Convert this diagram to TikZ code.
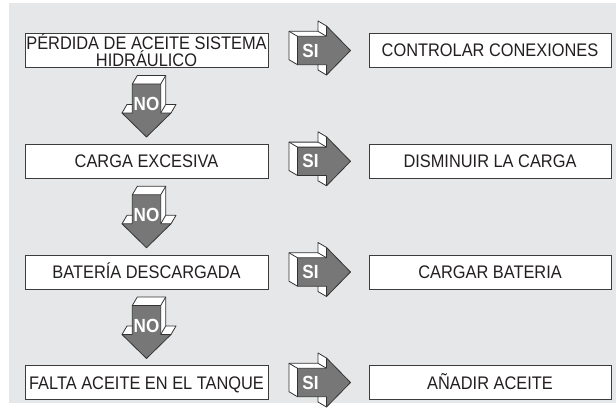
\documentclass[tikz,border=0pt]{standalone}
\usepackage{fontspec}
\setmainfont{Liberation Sans}[FakeStretch=0.9]
\usepackage{xcolor}
\usepackage{tikz}
\usetikzlibrary{positioning,calc}
\definecolor{bggray}{HTML}{E6E7E8}
\definecolor{boxline}{HTML}{3C3C3C}
\definecolor{arrgray}{HTML}{777777}
\definecolor{arrline}{HTML}{333333}
\definecolor{txtcol}{HTML}{231F20}
\newcommand\boxfont{\fontsize{18.2}{15.5}\selectfont}
\newcommand\lblfont{\fontsize{19}{19}\selectfont\bfseries}
\tikzset{
  boxbase/.style={draw=boxline, fill=white, line width=1pt, minimum width=243pt,
    minimum height=34pt, inner sep=0pt, text=txtcol, font=\boxfont},
  condbox/.style={boxbase, text height=13pt, text depth=0pt},
  actbox/.style={condbox, minimum width=242pt},
  arredge/.style={draw=arrline, line width=0.8pt, line join=round},
  arrfront/.style={fill=arrgray, draw=arrline, line width=0.8pt, line join=round},
  arrlabel/.style={text=white, font=\lblfont, inner sep=0pt},
  % solid arrow seen from the upper left, label and its place as arguments
  pics/arrowsolid/.style n args={2}{code={
    \fill[white] (-8.5,-19.2) -- (20.5,-19.2) -- (20.5,-29.5) -- (44.5,-5)
      -- (20.5,19.5) -- (20.5,9.2) -- (-8.5,9.2) -- cycle;
    \fill[white] (-8.5,-19.2) -- (-8.5,9.2) -- (0,14.2) -- (0,-14.2) -- cycle;
    \fill[white] (-8.5,-19.2) -- (20.5,-19.2) -- (29,-14.2) -- (0,-14.2) -- cycle;
    \fill[white] (20.5,-19.2) -- (20.5,-29.5) -- (29,-24.5) -- (29,-14.2) -- cycle;
    \fill[white] (20.5,19.5) -- (29,24.5) -- (29,14.2) -- (20.5,9.2) -- cycle;
    \draw[arredge] (0,14.2) -- (-8.5,9.2) -- (-8.5,-19.2) -- (20.5,-19.2)
      -- (20.5,-29.5) -- (29,-24.5);
    \draw[arredge] (-8.5,-19.2) -- (0,-14.2);
    \draw[arredge] (20.5,-19.2) -- (29,-14.2);
    \draw[arredge] (29,24.5) -- (20.5,19.5) -- (20.5,9.2);
    \filldraw[arrfront] (0,-14.2) -- (29,-14.2) -- (29,-24.5) -- (53,0)
      -- (29,24.5) -- (29,14.2) -- (0,14.2) -- cycle;
    \node[arrlabel] at (#2,0) {#1};
  }},
}
\begin{document}
\begin{tikzpicture}[x=1pt, y=-1pt]
  \useasboundingbox (0,0) rectangle (616,412);
  \fill[white] (0,0) rectangle (616,412);
  \fill[bggray] (9,3) rectangle (616,403);

  % causes
  \node[boxbase, align=center] (perdida) at (146.5,50.5)
    {PÉRDIDA DE ACEITE SISTEMA\\HIDRÁULICO};
  \node[condbox] (carga) at (146.5,161.3) {CARGA EXCESIVA};
  \node[condbox] (bateria) at (146.5,272) {BATERÍA DESCARGADA};
  \node[condbox] (falta) at (146.5,382.5) {FALTA ACEITE EN EL TANQUE};

  % remedies
  \node[actbox] (controlar) at (490,50.5) {CONTROLAR CONEXIONES};
  \node[actbox] (disminuir) at (490,161.3) {DISMINUIR LA CARGA};
  \node[actbox] (cargar) at (490,272) {CARGAR BATERIA};
  \node[actbox] (anadir) at (490,382.5) {AÑADIR ACEITE};

  % yes arrows
  \pic (si1) at ([xshift=29]perdida.east) {arrowsolid={SI}{13}};
  \pic (si2) at ([xshift=29]carga.east) {arrowsolid={SI}{13}};
  \pic (si3) at ([xshift=29]bateria.east) {arrowsolid={SI}{13}};
  \pic (si4) at ([xshift=29]falta.east) {arrowsolid={SI}{13}};

  % no arrows
  \pic[rotate=-90] (no1) at ([yshift=-16]perdida.south) {arrowsolid={NO}{20}};
  \pic[rotate=-90] (no2) at ([yshift=-16]carga.south) {arrowsolid={NO}{20}};
  \pic[rotate=-90] (no3) at ([yshift=-16]bateria.south) {arrowsolid={NO}{20}};
\end{tikzpicture}
\end{document}
